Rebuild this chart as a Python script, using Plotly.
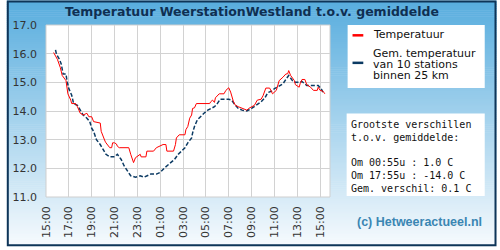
import plotly.graph_objects as go
from datetime import datetime, timedelta

# ---------------- data ----------------
temp_times = ["15:40","16:00","16:15","16:25","16:45","16:55","17:10","17:15","17:35","17:45",
              "18:00","18:15","18:35","18:45","19:00","19:10","19:45","19:50","20:10","20:15",
              "20:35","20:45","20:50","21:00","21:10","21:15","21:25","22:15","22:25","22:40",
              "22:50","23:00","23:15","23:20","23:45","23:50","00:25","00:40","01:15","01:30",
              "01:35","02:10","02:20","02:25","02:40","03:10","03:15","03:25","03:35","03:45",
              "03:50","04:00","04:10","05:20","05:25","05:35","05:45","05:50","06:10","06:35",
              "06:45","07:00","07:10","07:25","07:35","07:50","08:10","08:35","08:45","09:00",
              "09:15","09:30","09:50","10:00","10:15","10:35","10:45","10:50","11:10","11:25",
              "11:45","12:00","12:10","12:15","12:25","12:45","12:50","13:10","13:15","13:25",
              "13:40","13:50","14:10","14:25","14:45","14:50","15:00","15:15","15:25"]
temp_values = [16.04,15.80,15.52,15.24,15.06,14.60,14.38,14.26,14.26,14.15,
               13.92,13.86,13.92,13.80,13.80,13.63,13.58,13.29,12.95,12.89,
               12.72,12.72,12.89,12.89,12.85,12.77,12.72,12.72,12.49,12.20,
               12.37,12.43,12.49,12.40,12.40,12.60,12.60,12.72,12.83,12.83,
               12.60,12.60,12.83,13.06,13.17,13.17,13.35,13.46,13.75,13.86,
               14.09,14.11,14.26,14.26,14.32,14.38,14.30,14.46,14.60,14.60,
               14.72,14.81,14.66,14.32,14.20,14.15,14.09,14.03,14.09,14.15,
               14.20,14.38,14.41,14.53,14.80,14.80,14.69,14.60,14.72,15.06,
               15.18,15.29,15.30,15.41,15.24,15.06,14.92,14.83,14.95,15.10,
               15.10,14.92,14.83,14.72,14.72,14.83,14.72,14.69,14.60]

avg_times = ["15:50","15:55","16:10","16:20","16:30","16:45","16:50","17:00","17:15","17:25",
             "17:45","18:00","18:15","18:35","18:50","19:00","19:10","19:25","19:45","20:00",
             "20:15","20:35","21:00","21:15","21:35","21:50","22:10","22:25","22:50","23:15",
             "23:35","23:50","00:10","00:40","01:00","01:25","01:45","02:00","02:15","02:35",
             "02:50","03:10","03:25","03:45","03:50","04:00","04:15","04:35","04:50","05:10",
             "05:25","05:45","06:00","06:15","07:00","07:15","07:35","07:50","08:10","08:35",
             "09:00","09:25","09:50","10:10","10:25","10:45","11:00","11:15","11:45","12:00",
             "12:15","12:35","12:50","13:10","13:25","13:50","14:50","15:05","15:15"]
avg_values = [16.13,15.98,15.81,15.64,15.29,15.29,15.06,14.78,14.55,14.26,
              14.20,14.03,13.86,13.75,13.63,13.40,13.29,13.00,12.83,12.66,
              12.49,12.40,12.40,12.49,12.31,12.09,11.91,11.74,11.69,11.74,
              11.69,11.74,11.80,11.80,11.86,12.03,12.14,12.20,12.31,12.49,
              12.60,12.72,12.89,13.06,13.23,13.46,13.69,13.84,13.92,14.03,
              14.09,14.15,14.26,14.41,14.41,14.38,14.20,14.09,14.03,14.00,
              14.09,14.20,14.32,14.46,14.64,14.69,14.78,14.83,14.95,15.10,
              15.24,15.06,15.00,15.00,15.03,14.89,14.89,14.78,14.66]

x_tick_labels = ["15:00","17:00","19:00","21:00","23:00","01:00","03:00","05:00",
                 "07:00","09:00","11:00","13:00","15:00"]
y_ticks = [11, 12, 13, 14, 15, 16, 17]

title_text = "Temperatuur WeerstationWestland t.o.v. gemiddelde"
legend_temp = "Temperatuur"
legend_avg = ["Gem. temperatuur", "van 10 stations", "binnen 25 km"]
stats_lines = ["Grootste verschillen", "t.o.v. gemiddelde:", "",
               "Om 00:55u : 1.0 C", "Om 17:55u : -14.0 C", "Gem. verschil: 0.1 C"]
credit = "(c) Hetweeractueel.nl"

# ---------------- helpers ----------------
BASE = datetime(2024, 5, 1, 15, 0)


def to_dt(times):
    out, prev = [], None
    day = 0
    for t in times:
        h, m = map(int, t.split(":"))
        d = BASE.replace(hour=h, minute=m) + timedelta(days=day)
        if prev is not None and d < prev:
            day += 1
            d += timedelta(days=1)
        out.append(d)
        prev = d
    return out


def tick_positions(labels):
    out, day, prev = [], 0, None
    for t in labels:
        h, m = map(int, t.split(":"))
        d = BASE.replace(hour=h, minute=m) + timedelta(days=day)
        if prev is not None and d <= prev:
            day += 1
            d += timedelta(days=1)
        out.append(d)
        prev = d
    return out


# plot area in pixels
L, R, T, B = 40, 330, 25, 200
W, H = 500, 250


def px(X):
    return (X - L) / (R - L)


def py(Y):
    return (B - Y) / (B - T)


fig = go.Figure()
fig.add_trace(go.Scatter(x=to_dt(avg_times), y=avg_values, mode="lines",
                         line=dict(color="#0b3a63", width=1.5, dash="4px,2px"),
                         showlegend=False, hoverinfo="skip"))
fig.add_trace(go.Scatter(x=to_dt(temp_times), y=temp_values, mode="lines",
                         line=dict(color="#ff0000", width=1),
                         showlegend=False, hoverinfo="skip"))

shapes = []
# background gradient
top = (88, 173, 222)
bot = (246, 250, 253)
n = 125
for i in range(n):
    f = i / (n - 1)
    c = tuple(round(top[k] + (bot[k] - top[k]) * f) for k in range(3))
    y0 = i * H / n
    y1 = (i + 1) * H / n + 0.6
    shapes.append(dict(type="rect", xref="paper", yref="paper",
                       x0=px(0), x1=px(W), y0=py(y1), y1=py(y0),
                       fillcolor="rgb(%d,%d,%d)" % c, line=dict(width=0), layer="below"))
# plot area white
shapes.append(dict(type="rect", xref="paper", yref="paper", x0=0, x1=1, y0=0, y1=1,
                   fillcolor="white", line=dict(color="#cfcfcf", width=1), layer="below"))
# legend box
shapes.append(dict(type="rect", xref="paper", yref="paper", x0=px(348), x1=px(488),
                   y0=py(89), y1=py(25), fillcolor="white", line=dict(width=0), layer="below"))
shapes.append(dict(type="line", xref="paper", yref="paper", x0=px(353), x1=px(364),
                   y0=py(35.5), y1=py(35.5), line=dict(color="#ff0000", width=2.5)))
shapes.append(dict(type="line", xref="paper", yref="paper", x0=px(353), x1=px(364),
                   y0=py(63.5), y1=py(63.5), line=dict(color="#0b3a63", width=2.5)))
# stats box
shapes.append(dict(type="rect", xref="paper", yref="paper", x0=px(347), x1=px(488),
                   y0=py(199), y1=py(115), fillcolor="white", line=dict(width=0), layer="below"))
# outer border
shapes.append(dict(type="rect", xref="paper", yref="paper", x0=px(1), x1=px(499),
                   y0=py(249), y1=py(1), line=dict(color="#0e3558", width=2)))

annotations = [
    dict(text="<b>%s</b>" % title_text, xref="paper", yref="paper", x=px(250), y=py(11),
         xanchor="center", yanchor="middle", showarrow=False,
         font=dict(family="DejaVu Sans", size=12.5, color="#0f2f52")),
    dict(text=legend_temp, xref="paper", yref="paper", x=px(372), y=py(35),
         xanchor="left", yanchor="middle", showarrow=False,
         font=dict(family="DejaVu Sans", size=11, color="#111111")),
]
for i, line in enumerate(legend_avg):
    annotations.append(dict(text=line, xref="paper", yref="paper", x=px(372), y=py(54 + 11 * i),
                            xanchor="left", yanchor="middle", showarrow=False,
                            font=dict(family="DejaVu Sans", size=11, color="#111111")))
for i, line in enumerate(stats_lines):
    if not line:
        continue
    annotations.append(dict(text=line.replace(" ", "&nbsp;"), xref="paper", yref="paper",
                            x=px(349), y=py(126 + 13 * i),
                            xanchor="left", yanchor="middle", showarrow=False,
                            font=dict(family="DejaVu Sans Mono", size=10, color="#111111")))
annotations.append(dict(text="<b>%s</b>" % credit, xref="paper", yref="paper", x=px(487), y=py(225),
                        xanchor="right", yanchor="middle", showarrow=False,
                        font=dict(family="Liberation Sans", size=12.5, color="#3a86b3")))

x_start = BASE
x_end = BASE + timedelta(hours=24, minutes=52)

fig.update_layout(
    width=W, height=H,
    margin=dict(l=L, r=W - R, t=T, b=H - B, pad=0),
    paper_bgcolor="white",
    plot_bgcolor="rgba(0,0,0,0)",
    shapes=shapes,
    annotations=annotations,
    showlegend=False,
    xaxis=dict(type="date", range=[x_start, x_end],
               tickvals=tick_positions(x_tick_labels), ticktext=x_tick_labels,
               tickangle=-90, showgrid=True, gridcolor="#d2d2d2", gridwidth=1,
               zeroline=False, showline=False, ticks="", ticklabelstandoff=6,
               tickfont=dict(family="DejaVu Sans", size=11, color="#333333")),
    yaxis=dict(range=[11, 17], tickvals=y_ticks,
               ticktext=["%.1f" % v for v in y_ticks],
               showgrid=True, gridcolor="#d2d2d2", gridwidth=1,
               zeroline=False, showline=False, ticks="", ticklabelstandoff=8,
               tickfont=dict(family="DejaVu Sans", size=11, color="#333333")),
)

fig.write_html("out.html")
